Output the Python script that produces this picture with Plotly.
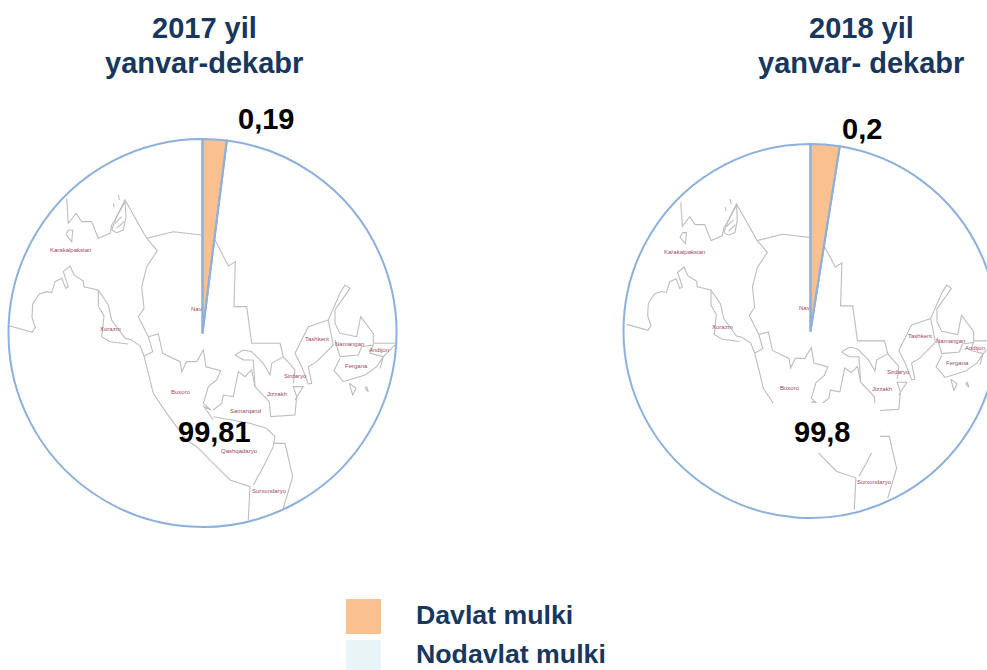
import plotly.graph_objects as go

# Data
slice_names = ["Davlat mulki", "Nodavlat mulki"]
# Printed labels of the reference
labels_2017 = ["0,19", "99,81"]
labels_2018 = ["0,2", "99,8"]
# The reference draws its wedges wider than the printed figures; these are the
# shares as measured from the drawn wedge angles.
drawn_2017 = [2.0, 98.0]
drawn_2018 = [2.5, 97.5]
title_lines = [["2017 yil", "yanvar-dekabr"], ["2018 yil", "yanvar- dekabr"]]
colors = ["#fac090", "rgba(255,255,255,0)"]
legend_colors = ["#fac090", "#e9f4f7"]

W, H = 1000, 670
NAVY = "#17375e"
EDGE = "#8db0dc"
FONT = "Liberation Sans"

# Decorative background map, not data (3x crop coordinates, relative to pie 1)
map_lines = [
    [(30,438),(97,457),(106,442),(96,412),(98,372),(118,342),(140,335),(155,338),(165,305),(185,295),(197,325),(205,320),(190,275),(210,258),(222,285),(250,303),(252,320),(295,330),(325,375),(335,420),(375,475),(390,478),(420,497),(432,528),(445,580),(460,640),(500,700),(560,780),(590,800),(640,850),(690,900),(750,920),(745,1020)],
    [(295,330),(295,378),(312,408),(305,470),(330,485),(385,492)],
    [(200,55),(205,130),(228,100),(245,125),(275,125),(295,175),(330,160),(335,135),(345,120),(375,60),(440,175),(520,155),(605,165)],
    [(205,150),(198,165),(215,185),(218,150),(205,150)],
    [(335,150),(350,110),(375,65),(378,110),(370,150),(350,158),(335,150)],
    [(345,130),(365,110)], [(350,145),(372,125)], [(340,70),(342,82)], [(355,45),(358,60)],
    [(440,175),(472,212),(440,260),(425,320),(432,385),(415,410),(445,470),(458,515),(432,528)],
    [(445,470),(475,462),(488,520),(540,545),(545,575),(560,545),(590,545),(610,510),(618,560),(662,572),(650,600),(625,620),(610,670),(632,690),(612,680),(640,720)],
    [(640,690),(665,670),(670,645),(700,650),(715,575),(735,590),(755,570),(765,620),(808,665),(812,710),(885,705),(890,650),(880,620),(910,620),(885,660)],
    [(645,180),(685,258),(706,245),(702,380),(740,380),(755,490),(840,490),(850,530),(885,570),(880,610)],
    [(705,525),(730,510),(755,515),(790,550),(810,585),(815,550),(850,530)],
    [(705,525),(730,540),(760,540),(765,620)],
    [(640,710),(750,730),(800,745),(825,770),(820,800),(790,860),(760,915)],
    [(820,790),(855,790),(878,890),(850,985)],
    [(885,520),(905,560),(925,612),(935,610),(925,560),(950,545),(1000,495),(985,420),(1020,340),(1035,315),(1050,325),(1005,390),(1005,430),(1020,460),(1070,470),(1082,410),(1120,460),(1120,490),(1185,490)],
    [(885,520),(925,440),(985,420)],
    [(1005,480),(1020,530),(1075,525),(1085,500),(1120,495),(1110,520),(1150,530),(1185,495)],
    [(1020,535),(1002,572),(1030,605),(1095,585),(1130,560),(1150,530),(1140,565)],
    [(1048,610),(1058,645),(1068,625),(1048,610)],
    [(1095,625),(1105,635),(1100,620),(1095,625)],
]
map_names = [("Karakalpakstan",212,210),("Xorazm",330,447),("Buxoro",543,637),("Nav",590,388),
             ("Samarqand",735,692),("Qashqadaryo",718,812),("Surxondaryo",808,932),("Jizzakh",832,642),
             ("Sirdaryo",885,588),("Tashkent",950,476),("Namangan",1047,491),("Andijon",1137,511),("Fergana",1070,559)]
# Names that the white patch hides on the second map
hidden_on_second = {"Samarqand", "Qashqadaryo"}

PIES = [(202.5, 333.0, 194.0, 1.0), (810.5, 331.0, 187.0, 0.955)]
shapes, annotations = [], []

def px(x): return x / W
def py(y): return 1 - y / H

def note(text, x, y, size, color, bold=True, anchor="center"):
    annotations.append(dict(text=f"<b>{text}</b>" if bold else text, x=px(x), y=py(y), xref="paper", yref="paper",
                            showarrow=False, xanchor=anchor, yanchor="middle", align="center",
                            font=dict(family=FONT, size=size, color=color)))

for i, (cx, cy, r, s) in enumerate(PIES):
    def mp(zx, zy):
        return cx + (zx / 3 - 202.5) * s, cy + (180 + zy / 3 - 333) * s
    for line in map_lines:
        pts = [mp(*p) for p in line]
        path = "M " + " L ".join(f"{px(a):.4f},{py(b):.4f}" for a, b in pts)
        shapes.append(dict(type="path", path=path, xref="paper", yref="paper", layer="below",
                           line=dict(color="#bdbdbd", width=1.1)))
    for name, zx, zy in map_names:
        if i == 1 and name in hidden_on_second:
            continue
        a, b = mp(zx, zy)
        a = min(a, 986 - 11)  # keep the last name inside the window
        note(name, a, b, 6, "#a04a5a", bold=False)

# White patch behind the second pie's large label
shapes.append(dict(type="rect", x0=px(773), x1=px(880), y0=py(453), y1=py(403), xref="paper", yref="paper",
                   layer="below", fillcolor="white", line_width=0))

fig = go.Figure()
for (cx, cy, r, s), vals, name in zip(PIES, [drawn_2017, drawn_2018], ["2017", "2018"]):
    fig.add_trace(go.Pie(
        labels=slice_names, values=vals, name=name, sort=False, direction="clockwise", rotation=0,
        textinfo="none", hoverinfo="label", showlegend=False,
        marker=dict(colors=colors, line=dict(color=EDGE, width=2)),
        domain=dict(x=[px(cx - r), px(cx + r)], y=[py(cy + r), py(cy - r)]),
    ))

for lines, tx in zip(title_lines, [204, 861]):
    note(lines[0], tx, 28, 29, NAVY)
    note(lines[1], tx, 63, 29, NAVY)
note(labels_2017[0], 266, 119, 29, "#000000")
note(labels_2017[1], 214.5, 432, 29, "#000000")
note(labels_2018[0], 862, 129, 29, "#000000")
note(labels_2018[1], 822, 432, 29, "#000000")

for i, (name, col) in enumerate(zip(slice_names, legend_colors)):
    top, bot = [(599, 634), (640, 670)][i]
    shapes.append(dict(type="rect", x0=px(346), x1=px(381), y0=py(bot), y1=py(top), xref="paper", yref="paper",
                       fillcolor=col, line_width=0))
    note(name, 414, [615, 654][i], 26.7, NAVY, anchor="left")

fig.update_layout(width=W, height=H, margin=dict(l=0, r=0, t=0, b=0), paper_bgcolor="white",
                  shapes=shapes, annotations=annotations, showlegend=False)
# The second circle runs past the right edge of the window, as in the reference.
fig.write_html("out.html", config=dict(displayModeBar=False),
               post_script="document.documentElement.style.overflow='hidden';document.body.style.overflow='hidden';document.body.style.margin='0';")
